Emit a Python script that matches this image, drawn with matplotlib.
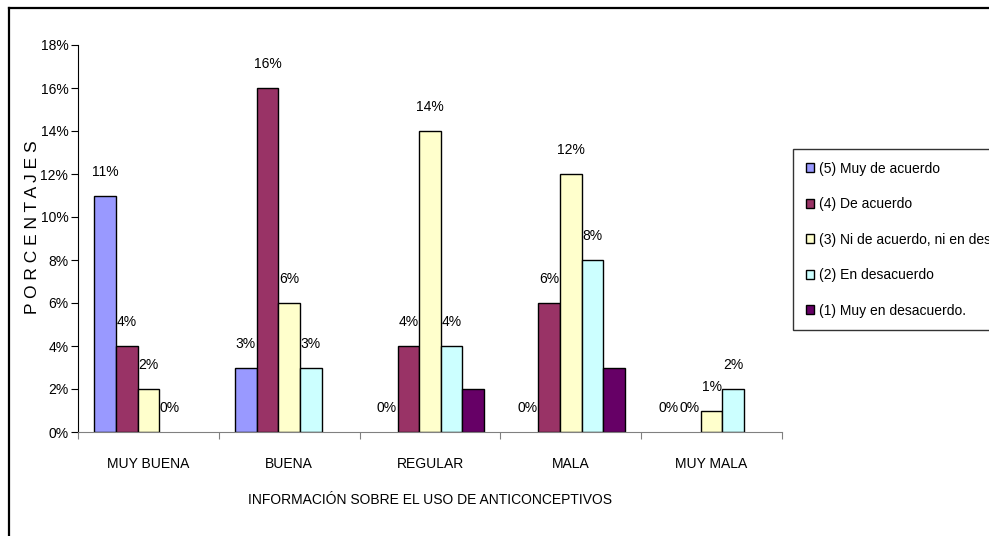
import matplotlib
matplotlib.use('Agg')
import matplotlib.pyplot as plt
from matplotlib.lines import Line2D
import numpy as np

plt.rcParams['font.family'] = ['Liberation Sans Narrow', 'Liberation Sans', 'DejaVu Sans']

categories = ['MUY BUENA', 'BUENA', 'REGULAR', 'MALA', 'MUY MALA']
series_names = ['(5) Muy de acuerdo', '(4) De acuerdo',
                '(3) Ni de acuerdo, ni en desacuerdo', '(2) En desacuerdo',
                '(1) Muy en desacuerdo.']
muy_de_acuerdo = [11, 3, 0, 0, 0]
de_acuerdo = [4, 16, 4, 6, 0]
ni_ni = [2, 6, 14, 12, 1]
en_desacuerdo = [0, 3, 4, 8, 2]
muy_en_desacuerdo = [0, 0, 2, 3, 0]
# the last series carries no value labels in the original
labelled = [True, True, True, True, False]
colors = ['#9999FF', '#993366', '#FFFFCC', '#CCFFFF', '#660066']

W, H = 989, 536
fig = plt.figure(figsize=(W / 100, H / 100), dpi=100)
ax = fig.add_axes([78 / W, 1 - 432 / H, (782 - 78) / W, (432 - 45) / H])

series = [muy_de_acuerdo, de_acuerdo, ni_ni, en_desacuerdo, muy_en_desacuerdo]
n = len(series)
bar_w = 1 / (n + 1.5)
x = np.arange(len(categories))
for i, (vals, name, col) in enumerate(zip(series, series_names, colors)):
    pos = x - 0.5 + 0.75 * bar_w + (i + 0.5) * bar_w
    bars = ax.bar(pos, vals, width=bar_w, color=col, edgecolor='black',
                  linewidth=1.0, label=name)
    for b, v in zip(bars, vals):
        if v == 0:
            b.set_edgecolor('none')  # Excel draws nothing for empty bars
        if labelled[i]:
            ax.annotate(f'{v}%', (b.get_x() + b.get_width() / 2, v),
                        xytext=(0, 12), textcoords='offset points',
                        ha='center', va='bottom', fontsize=10)

ax.set_xlim(-0.5, len(categories) - 0.5)
ax.set_ylim(0, 18)
ax.set_yticks(range(0, 19, 2))
ax.set_yticklabels([f'{t}%' for t in range(0, 19, 2)], fontsize=10)
ax.set_xticks(np.arange(-0.5, len(categories), 1.0))
ax.set_xticklabels([])
ax.set_xticks(x, minor=True)
ax.set_xticklabels(categories, minor=True, fontsize=10)
ax.tick_params(axis='x', which='minor', length=0, pad=18)
ax.tick_params(axis='x', which='major', length=5, direction='out', color='#808080')
ax.tick_params(axis='y', length=5, direction='out', pad=2)

for side in ['top', 'right']:
    ax.spines[side].set_visible(False)
ax.spines['bottom'].set_color('#808080')
ax.spines['left'].set_color('black')

ax.set_xlabel('INFORMACIÓN SOBRE EL USO DE ANTICONCEPTIVOS', fontsize=10, labelpad=16)
fig.text(33 / W, 1 - 314 / H, 'P O R C E N T A J E S', rotation=90,
         ha='center', va='bottom', fontsize=12.5)

leg = ax.legend(loc='upper left', bbox_to_anchor=(793 / W, 1 - 149 / H),
                bbox_transform=fig.transFigure, fontsize=10, frameon=True,
                fancybox=False, edgecolor='black', labelspacing=1.55,
                handlelength=0.6, handleheight=0.6, handletextpad=0.4,
                borderpad=0.9, borderaxespad=0)
leg.get_frame().set_linewidth(1.0)
for h, col in zip(leg.legend_handles, colors):
    h.set_facecolor(col)
    h.set_edgecolor('black')

# outer chart border (top and left visible)
fig.add_artist(Line2D([9 / W, 1], [1 - 8 / H, 1 - 8 / H], color='black',
                      linewidth=1.6, transform=fig.transFigure))
fig.add_artist(Line2D([9 / W, 9 / W], [0, 1 - 8 / H], color='black',
                      linewidth=1.6, transform=fig.transFigure))

fig.savefig('out.png', dpi=100)
